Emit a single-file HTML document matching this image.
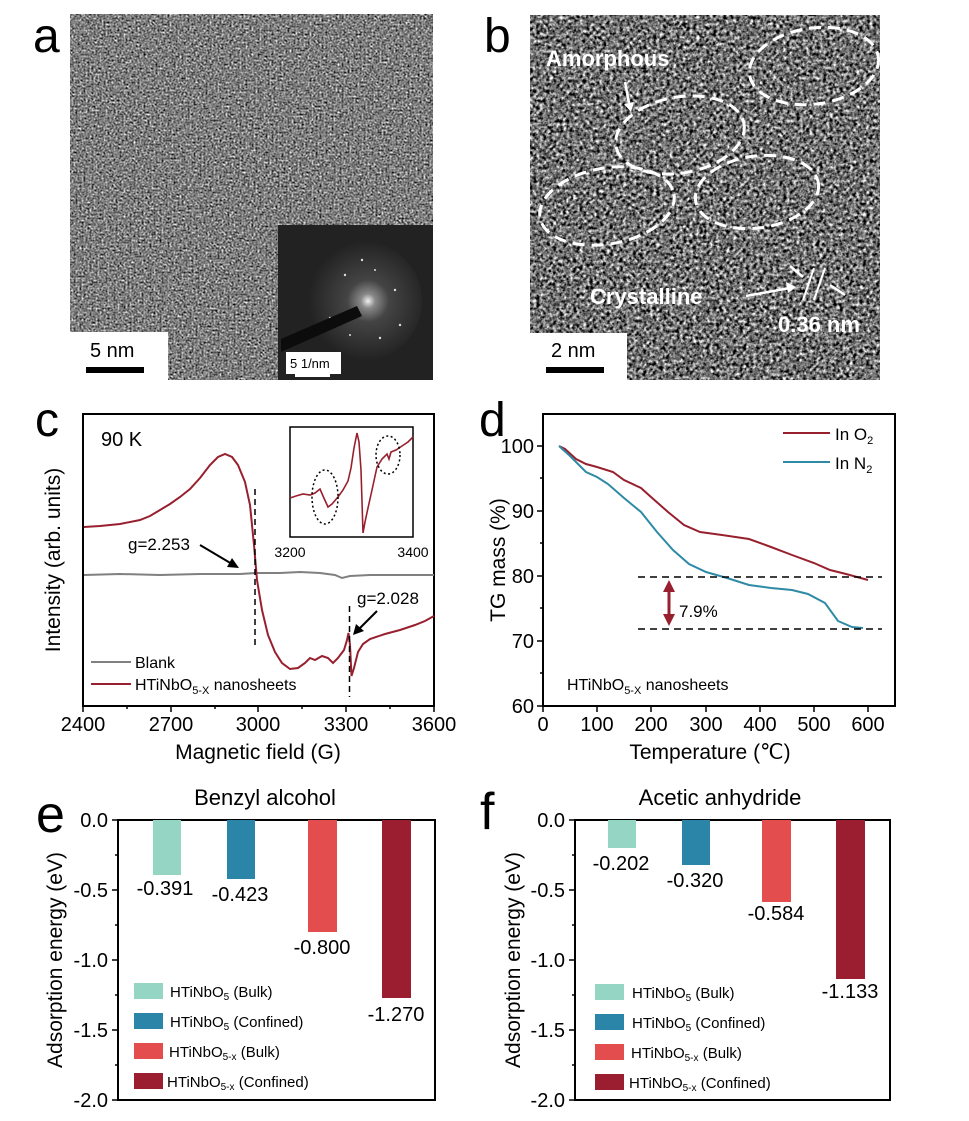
<!DOCTYPE html>
<html><head><meta charset="utf-8"><style>
html,body{margin:0;padding:0;background:#fff;}
svg{display:block;font-family:"Liberation Sans",Arial,sans-serif;}
</style></head><body>
<svg width="969" height="1121" viewBox="0 0 969 1121" xmlns="http://www.w3.org/2000/svg">
<defs>
<filter id="tem" x="0" y="0" width="100%" height="100%" color-interpolation-filters="sRGB">
<feTurbulence type="fractalNoise" baseFrequency="0.5" numOctaves="2" seed="3"/>
<feColorMatrix type="matrix" values="0.33 0.33 0.33 0 0  0.33 0.33 0.33 0 0  0.33 0.33 0.33 0 0  0 0 0 0 1"/>
<feComponentTransfer><feFuncR type="linear" slope="2.2" intercept="-0.6"/><feFuncG type="linear" slope="2.2" intercept="-0.6"/><feFuncB type="linear" slope="2.2" intercept="-0.6"/></feComponentTransfer>
</filter>
<filter id="tem2" x="0" y="0" width="100%" height="100%" color-interpolation-filters="sRGB">
<feTurbulence type="fractalNoise" baseFrequency="0.3" numOctaves="2" seed="7"/>
<feColorMatrix type="matrix" values="0.33 0.33 0.33 0 0  0.33 0.33 0.33 0 0  0.33 0.33 0.33 0 0  0 0 0 0 1"/>
<feComponentTransfer><feFuncR type="linear" slope="3.2" intercept="-1.15"/><feFuncG type="linear" slope="3.2" intercept="-1.15"/><feFuncB type="linear" slope="3.2" intercept="-1.15"/></feComponentTransfer>
</filter>
<radialGradient id="saed" cx="0.55" cy="0.5" r="0.5">
<stop offset="0" stop-color="#f0f0f0"/><stop offset="0.12" stop-color="#888"/><stop offset="0.35" stop-color="#444"/><stop offset="1" stop-color="#222"/>
</radialGradient>
</defs>

<!-- Panel a -->
<rect x="70" y="14" width="363" height="366" fill="#808080"/>
<rect x="70" y="14" width="363" height="366" filter="url(#tem)"/>
<rect x="278" y="225" width="155" height="155" fill="#222"/>
<circle cx="362" cy="301" r="60" fill="url(#saed)"/>
<g fill="#ddd"><circle cx="362" cy="260" r="1.2"/><circle cx="395" cy="290" r="1.2"/><circle cx="330" cy="318" r="1.2"/><circle cx="380" cy="338" r="1.2"/><circle cx="345" cy="275" r="1.2"/><circle cx="400" cy="325" r="1.2"/><circle cx="375" cy="270" r="1"/><circle cx="350" cy="335" r="1"/></g>
<polygon points="281,339 357,306 362,316 281,352" fill="#0c0c0c"/>
<rect x="286" y="352" width="55" height="22" fill="#fff"/>
<text x="290" y="368" font-size="13">5 1/nm</text>
<rect x="295" y="374" width="35" height="3" fill="#fff"/>
<rect x="70" y="332" width="98" height="48" fill="#fff"/>
<text x="90" y="357" font-size="20">5 nm</text>
<rect x="86" y="367" width="58" height="6" fill="#000"/>
<text x="33" y="52" font-size="48">a</text>

<!-- Panel b -->
<rect x="530" y="15" width="350" height="365" fill="#7a7a7a"/>
<rect x="530" y="15" width="350" height="365" filter="url(#tem2)"/>
<g fill="none" stroke="#fff" stroke-width="3" stroke-dasharray="12,7">
<ellipse cx="814" cy="66" rx="65" ry="38" transform="rotate(-8 814 66)"/>
<ellipse cx="680" cy="135" rx="65" ry="38" transform="rotate(-10 680 135)"/>
<ellipse cx="607" cy="206" rx="68" ry="38" transform="rotate(-10 607 206)"/>
<ellipse cx="757" cy="192" rx="62" ry="36" transform="rotate(-8 757 192)"/>
</g>
<text x="546" y="66" font-size="22" font-weight="bold" fill="#fff">Amorphous</text>
<line x1="625" y1="82" x2="629" y2="103" stroke="#fff" stroke-width="2.5"/>
<polygon points="624,104 634,102 631,112" fill="#fff"/>
<text x="590" y="304" font-size="22" font-weight="bold" fill="#fff">Crystalline</text>
<line x1="746" y1="296" x2="790" y2="288" stroke="#fff" stroke-width="2.5"/>
<polygon points="796,287 786,282 788,293" fill="#fff"/>
<line x1="803" y1="300" x2="814" y2="268" stroke="#fff" stroke-width="2"/>
<line x1="814" y1="300" x2="825" y2="268" stroke="#fff" stroke-width="2"/>
<line x1="790" y1="266" x2="803" y2="277" stroke="#fff" stroke-width="2.5"/>
<line x1="845" y1="295" x2="830" y2="285" stroke="#fff" stroke-width="2.5"/>
<text x="778" y="332" font-size="22" font-weight="bold" fill="#fff">0.36 nm</text>
<rect x="530" y="333" width="97" height="47" fill="#fff"/>
<text x="551" y="357" font-size="20">2 nm</text>
<rect x="546" y="367" width="58" height="6" fill="#000"/>
<text x="484" y="52" font-size="48">b</text>

<!-- Panel c -->
<text x="35" y="436" font-size="48">c</text>
<rect x="83" y="414" width="351" height="292" fill="none" stroke="#000" stroke-width="2"/>
<g stroke="#000" stroke-width="1.5">
<line x1="83" y1="706" x2="83" y2="712"/><line x1="171" y1="706" x2="171" y2="712"/><line x1="258" y1="706" x2="258" y2="712"/><line x1="346" y1="706" x2="346" y2="712"/><line x1="434" y1="706" x2="434" y2="712"/>
<line x1="127" y1="706" x2="127" y2="709"/><line x1="215" y1="706" x2="215" y2="709"/><line x1="302" y1="706" x2="302" y2="709"/><line x1="390" y1="706" x2="390" y2="709"/>
</g>
<g font-size="20" text-anchor="middle"><text x="83" y="731">2400</text><text x="171" y="731">2700</text><text x="258" y="731">3000</text><text x="346" y="731">3300</text><text x="434" y="731">3600</text></g>
<text x="258" y="759" font-size="21" text-anchor="middle">Magnetic field (G)</text>
<text transform="translate(60 560) rotate(-90)" font-size="21" text-anchor="middle">Intensity (arb. units)</text>
<text x="101" y="446" font-size="20">90 K</text>
<path d="M84,575 L120,574 L160,575 L200,574 L240,574 L256,573 L280,573 L300,572 L320,573 L335,575 L342,578 L350,576 L370,575 L434,575" fill="none" stroke="#808080" stroke-width="2"/>
<path d="M84,527 L100,526 L120,524 L140,520 L150,516 L160,510 L170,504 L180,497 L190,489 L200,478 L210,465 L218,457 L225,454 L232,457 L238,465 L245,482 L250,505 L254,545 L257,580 L262,610 L268,635 L275,652 L282,663 L290,669 L298,668 L305,663 L310,658 L315,660 L322,656 L328,658 L333,663 L338,658 L344,650 L347,640 L348.5,633 L350,645 L351.5,676 L354,668 L358,652 L363,644 L370,639 L385,634 L400,630 L415,625 L425,621 L434,616" fill="none" stroke="#98202e" stroke-width="2"/>
<line x1="255" y1="489" x2="255" y2="645" stroke="#000" stroke-width="1.5" stroke-dasharray="6,4"/>
<line x1="349.5" y1="606" x2="349.5" y2="697" stroke="#000" stroke-width="1.5" stroke-dasharray="6,4"/>
<text x="128" y="550" font-size="17">g=2.253</text>
<line x1="200" y1="545" x2="232" y2="564" stroke="#000" stroke-width="2"/>
<polygon points="239,568 227,567 232,558" fill="#000"/>
<text x="357" y="604" font-size="17">g=2.028</text>
<line x1="377" y1="611" x2="358" y2="630" stroke="#000" stroke-width="2"/>
<polygon points="353,635 356,624 364,631" fill="#000"/>
<rect x="290" y="427" width="123" height="110" fill="#fff" stroke="#000" stroke-width="1.5"/>
<path d="M290,498 L296,496 L303,494 L310,495 L315,493 L320,489 L323,496 L328,507 L332,504 L338,497 L343,490 L348,481 L351,468 L354,448 L357,433 L359,442 L361,470 L363,533 L365,522 L368,508 L372,490 L377,467 L382,459 L387,454 L389,459 L391,452 L396,450 L402,446 L408,442 L413,437" fill="none" stroke="#98202e" stroke-width="1.6"/>
<ellipse cx="325" cy="497" rx="13" ry="27" fill="none" stroke="#000" stroke-width="1.5" stroke-dasharray="2,2.5"/>
<ellipse cx="388" cy="455" rx="12" ry="19" fill="none" stroke="#000" stroke-width="1.5" stroke-dasharray="2,2.5"/>
<g font-size="14" text-anchor="middle"><text x="290" y="557">3200</text><text x="413" y="557">3400</text></g>
<line x1="91" y1="662" x2="131" y2="662" stroke="#808080" stroke-width="2"/>
<text x="135" y="668" font-size="16">Blank</text>
<line x1="91" y1="684" x2="131" y2="684" stroke="#98202e" stroke-width="2"/>
<text x="135" y="690" font-size="16">HTiNbO<tspan font-size="11" dy="4">5-X</tspan><tspan dy="-4"> nanosheets</tspan></text>

<!-- Panel d -->
<text x="479" y="436" font-size="48">d</text>
<rect x="543" y="414" width="352" height="292" fill="none" stroke="#000" stroke-width="2"/>
<g stroke="#000" stroke-width="1.5">
<line x1="543" y1="706" x2="543" y2="712"/><line x1="597" y1="706" x2="597" y2="712"/><line x1="651" y1="706" x2="651" y2="712"/><line x1="706" y1="706" x2="706" y2="712"/><line x1="760" y1="706" x2="760" y2="712"/><line x1="814" y1="706" x2="814" y2="712"/><line x1="868" y1="706" x2="868" y2="712"/>
<line x1="537" y1="446" x2="543" y2="446"/><line x1="537" y1="511" x2="543" y2="511"/><line x1="537" y1="576" x2="543" y2="576"/><line x1="537" y1="641" x2="543" y2="641"/><line x1="537" y1="706" x2="543" y2="706"/>
<line x1="540" y1="478" x2="543" y2="478"/><line x1="540" y1="543" x2="543" y2="543"/><line x1="540" y1="608" x2="543" y2="608"/><line x1="540" y1="673" x2="543" y2="673"/>
</g>
<g font-size="20" text-anchor="middle"><text x="543" y="731">0</text><text x="597" y="731">100</text><text x="651" y="731">200</text><text x="706" y="731">300</text><text x="760" y="731">400</text><text x="814" y="731">500</text><text x="868" y="731">600</text></g>
<g font-size="20" text-anchor="end"><text x="534" y="453">100</text><text x="534" y="518">90</text><text x="534" y="583">80</text><text x="534" y="648">70</text><text x="534" y="713">60</text></g>
<text x="710" y="759" font-size="21" text-anchor="middle">Temperature (℃)</text>
<text transform="translate(505 560) rotate(-90)" font-size="21" text-anchor="middle">TG mass (%)</text>
<path d="M559,446 L565,449 L576,459 L586,464 L597,467 L613,472 L624,480 L641,488 L651,497 L668,512 L684,525 L700,532 L722,535 L749,539 L771,547 L792,555 L814,563 L830,570 L846,574 L868,580" fill="none" stroke="#98202e" stroke-width="2"/>
<path d="M559,446 L570,456 L586,472 L597,477 L608,484 L624,498 L641,512 L657,532 L673,550 L689,564 L706,572 L727,578 L749,585 L771,588 L792,590 L808,594 L825,603 L838,621 L852,627 L863,628" fill="none" stroke="#2e8aa5" stroke-width="2"/>
<line x1="638" y1="577" x2="882" y2="577" stroke="#000" stroke-width="1.5" stroke-dasharray="7,5"/>
<line x1="638" y1="629" x2="882" y2="629" stroke="#000" stroke-width="1.5" stroke-dasharray="7,5"/>
<line x1="669" y1="588" x2="669" y2="618" stroke="#98202e" stroke-width="3"/>
<polygon points="669,580 663,592 675,592" fill="#98202e"/>
<polygon points="669,626 663,614 675,614" fill="#98202e"/>
<text x="679" y="617" font-size="17">7.9%</text>
<line x1="783" y1="433" x2="830" y2="433" stroke="#98202e" stroke-width="2"/>
<text x="835" y="440" font-size="17">In O<tspan font-size="11" dy="4">2</tspan></text>
<line x1="783" y1="462" x2="830" y2="462" stroke="#2e8aa5" stroke-width="2"/>
<text x="835" y="469" font-size="17">In N<tspan font-size="11" dy="4">2</tspan></text>
<text x="567" y="690" font-size="16">HTiNbO<tspan font-size="11" dy="4">5-X</tspan><tspan dy="-4"> nanosheets</tspan></text>

<!-- Panel e -->
<text x="36" y="832" font-size="52">e</text>
<text x="265" y="805" font-size="22" text-anchor="middle">Benzyl alcohol</text>
<rect x="118" y="820" width="317" height="280" fill="none" stroke="#000" stroke-width="2"/>
<g stroke="#000" stroke-width="1.5">
<line x1="112" y1="820" x2="118" y2="820"/><line x1="112" y1="890" x2="118" y2="890"/><line x1="112" y1="960" x2="118" y2="960"/><line x1="112" y1="1030" x2="118" y2="1030"/><line x1="112" y1="1100" x2="118" y2="1100"/>
<line x1="115" y1="855" x2="118" y2="855"/><line x1="115" y1="925" x2="118" y2="925"/><line x1="115" y1="995" x2="118" y2="995"/><line x1="115" y1="1065" x2="118" y2="1065"/>
</g>
<g font-size="20" text-anchor="end"><text x="108" y="827">0.0</text><text x="108" y="897">-0.5</text><text x="108" y="967">-1.0</text><text x="108" y="1037">-1.5</text><text x="108" y="1107">-2.0</text></g>
<text transform="translate(62 960) rotate(-90)" font-size="21" text-anchor="middle">Adsorption energy (eV)</text>
<rect x="153" y="820" width="28" height="55" fill="#94d5c3"/>
<rect x="227" y="820" width="28" height="59" fill="#2a85a8"/>
<rect x="308" y="820" width="29" height="112" fill="#e34d4d"/>
<rect x="382" y="820" width="29" height="178" fill="#9a1e2f"/>
<g font-size="20" text-anchor="middle"><text x="165" y="895">-0.391</text><text x="240" y="901">-0.423</text><text x="322" y="954">-0.800</text><text x="396" y="1021">-1.270</text></g>
<rect x="134" y="983" width="29" height="16" fill="#94d5c3"/>
<rect x="134" y="1013" width="29" height="16" fill="#2a85a8"/>
<rect x="134" y="1043" width="29" height="16" fill="#e34d4d"/>
<rect x="134" y="1073" width="29" height="16" fill="#9a1e2f"/>
<g font-size="15"><text x="170" y="997">HTiNbO<tspan font-size="10" dy="3">5</tspan><tspan dy="-3"> (Bulk)</tspan></text>
<text x="170" y="1027">HTiNbO<tspan font-size="10" dy="3">5</tspan><tspan dy="-3"> (Confined)</tspan></text>
<text x="169" y="1057">HTiNbO<tspan font-size="10" dy="3">5-x</tspan><tspan dy="-3"> (Bulk)</tspan></text>
<text x="167" y="1087">HTiNbO<tspan font-size="10" dy="3">5-x</tspan><tspan dy="-3"> (Confined)</tspan></text></g>

<!-- Panel f -->
<text x="480" y="829" font-size="52">f</text>
<text x="720" y="805" font-size="22" text-anchor="middle">Acetic anhydride</text>
<rect x="575" y="820" width="315" height="280" fill="none" stroke="#000" stroke-width="2"/>
<g stroke="#000" stroke-width="1.5">
<line x1="569" y1="820" x2="575" y2="820"/><line x1="569" y1="890" x2="575" y2="890"/><line x1="569" y1="960" x2="575" y2="960"/><line x1="569" y1="1030" x2="575" y2="1030"/><line x1="569" y1="1100" x2="575" y2="1100"/>
<line x1="572" y1="855" x2="575" y2="855"/><line x1="572" y1="925" x2="575" y2="925"/><line x1="572" y1="995" x2="575" y2="995"/><line x1="572" y1="1065" x2="575" y2="1065"/>
</g>
<g font-size="20" text-anchor="end"><text x="565" y="827">0.0</text><text x="565" y="897">-0.5</text><text x="565" y="967">-1.0</text><text x="565" y="1037">-1.5</text><text x="565" y="1107">-2.0</text></g>
<text transform="translate(520 960) rotate(-90)" font-size="21" text-anchor="middle">Adsorption energy (eV)</text>
<rect x="608" y="820" width="28" height="28" fill="#94d5c3"/>
<rect x="682" y="820" width="28" height="45" fill="#2a85a8"/>
<rect x="762" y="820" width="29" height="82" fill="#e34d4d"/>
<rect x="836" y="820" width="29" height="159" fill="#9a1e2f"/>
<g font-size="20" text-anchor="middle"><text x="621" y="870">-0.202</text><text x="695" y="887">-0.320</text><text x="776" y="920">-0.584</text><text x="850" y="998">-1.133</text></g>
<rect x="595" y="984" width="29" height="16" fill="#94d5c3"/>
<rect x="595" y="1014" width="29" height="16" fill="#2a85a8"/>
<rect x="595" y="1044" width="29" height="16" fill="#e34d4d"/>
<rect x="595" y="1074" width="29" height="16" fill="#9a1e2f"/>
<g font-size="15"><text x="632" y="998">HTiNbO<tspan font-size="10" dy="3">5</tspan><tspan dy="-3"> (Bulk)</tspan></text>
<text x="632" y="1028">HTiNbO<tspan font-size="10" dy="3">5</tspan><tspan dy="-3"> (Confined)</tspan></text>
<text x="631" y="1058">HTiNbO<tspan font-size="10" dy="3">5-x</tspan><tspan dy="-3"> (Bulk)</tspan></text>
<text x="629" y="1088">HTiNbO<tspan font-size="10" dy="3">5-x</tspan><tspan dy="-3"> (Confined)</tspan></text></g>
</svg>
</body></html>
